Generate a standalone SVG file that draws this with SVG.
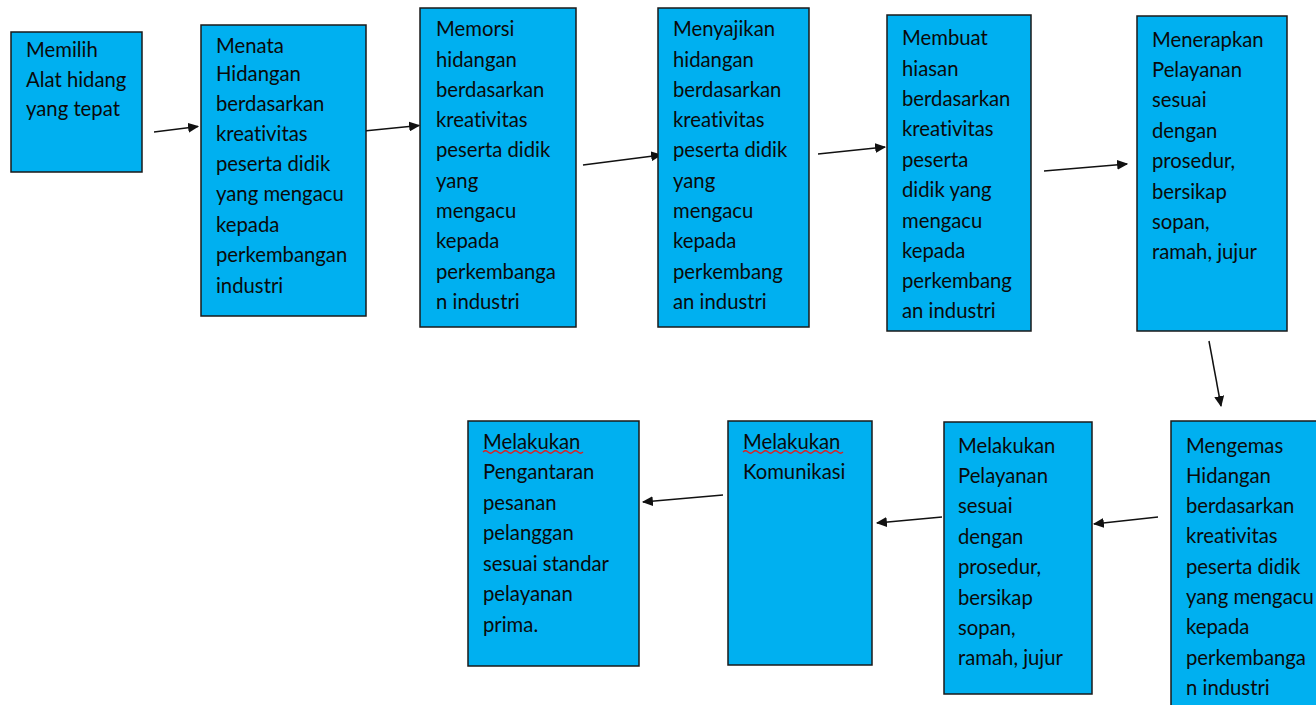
<svg xmlns="http://www.w3.org/2000/svg" width="1316" height="705" viewBox="0 0 1316 705">
<defs>
<style>
.box{fill:#00B0F0;stroke:#1a1a1a;stroke-width:1.5}
.t{font-family:Lato,"Liberation Sans",sans-serif;font-size:20.3px;fill:#0a0a0a;font-variant-ligatures:none;font-feature-settings:"liga" 0,"clig" 0}
.c{stroke:#111;stroke-width:1.5;fill:none}
.w{stroke:#e02020;stroke-width:1.2;fill:none}
</style>
<marker id="ah" viewBox="0 0 10 10" refX="9" refY="5" markerWidth="11" markerHeight="10" orient="auto" markerUnits="userSpaceOnUse" preserveAspectRatio="none">
<path d="M0,0 L10,5 L0,10 z" fill="#111"/>
</marker>
</defs>
<rect width="1316" height="705" fill="#fff"/>
<g id="connectors">
<line class="c" x1="154" y1="132" x2="198" y2="126.5" marker-end="url(#ah)"/>
<line class="c" x1="364" y1="131" x2="419" y2="125.5" marker-end="url(#ah)"/>
<line class="c" x1="583" y1="165" x2="661" y2="155" marker-end="url(#ah)"/>
<line class="c" x1="818" y1="154" x2="885" y2="147" marker-end="url(#ah)"/>
<line class="c" x1="1044" y1="171" x2="1127" y2="164" marker-end="url(#ah)"/>
<line class="c" x1="1209" y1="341" x2="1221" y2="406" marker-end="url(#ah)"/>
<line class="c" x1="1158" y1="517" x2="1094" y2="524" marker-end="url(#ah)"/>
<line class="c" x1="942" y1="517" x2="877" y2="523" marker-end="url(#ah)"/>
<line class="c" x1="723" y1="495" x2="643" y2="502" marker-end="url(#ah)"/>
</g>
<g id="n1"><rect class="box" x="11" y="32" width="131" height="140"/>
<text class="t" x="26" y="57">Memilih</text><text class="t" x="26" y="87">Alat hidang</text><text class="t" x="26" y="116">yang tepat</text></g>
<g id="n2"><rect class="box" x="201" y="25" width="165" height="291"/>
<text class="t" x="216" y="53">Menata</text><text class="t" x="216" y="81">Hidangan</text><text class="t" x="216" y="111">berdasarkan</text><text class="t" x="216" y="141">kreativitas</text><text class="t" x="216" y="171">peserta didik</text><text class="t" x="216" y="201">yang mengacu</text><text class="t" x="216" y="232">kepada</text><text class="t" x="216" y="262">perkembangan</text><text class="t" x="216" y="293">industri</text></g>
<g id="n3"><rect class="box" x="420" y="8" width="156" height="319"/>
<text class="t" x="436" y="36">Memorsi</text><text class="t" x="436" y="67">hidangan</text><text class="t" x="436" y="97">berdasarkan</text><text class="t" x="436" y="127">kreativitas</text><text class="t" x="436" y="157">peserta didik</text><text class="t" x="436" y="188">yang</text><text class="t" x="436" y="218">mengacu</text><text class="t" x="436" y="248">kepada</text><text class="t" x="436" y="279">perkembanga</text><text class="t" x="436" y="309">n industri</text></g>
<g id="n4"><rect class="box" x="658" y="8" width="151" height="319"/>
<text class="t" x="673" y="36">Menyajikan</text><text class="t" x="673" y="67">hidangan</text><text class="t" x="673" y="97">berdasarkan</text><text class="t" x="673" y="127">kreativitas</text><text class="t" x="673" y="157">peserta didik</text><text class="t" x="673" y="188">yang</text><text class="t" x="673" y="218">mengacu</text><text class="t" x="673" y="248">kepada</text><text class="t" x="673" y="279">perkembang</text><text class="t" x="673" y="309">an industri</text></g>
<g id="n5"><rect class="box" x="887" y="15" width="144" height="316"/>
<text class="t" x="902" y="45">Membuat</text><text class="t" x="902" y="76">hiasan</text><text class="t" x="902" y="106">berdasarkan</text><text class="t" x="902" y="136">kreativitas</text><text class="t" x="902" y="167">peserta</text><text class="t" x="902" y="197">didik yang</text><text class="t" x="902" y="228">mengacu</text><text class="t" x="902" y="258">kepada</text><text class="t" x="902" y="288">perkembang</text><text class="t" x="902" y="318">an industri</text></g>
<g id="n6"><rect class="box" x="1137" y="16" width="150" height="315"/>
<text class="t" x="1152" y="47">Menerapkan</text><text class="t" x="1152" y="77">Pelayanan</text><text class="t" x="1152" y="107">sesuai</text><text class="t" x="1152" y="138">dengan</text><text class="t" x="1152" y="168">prosedur,</text><text class="t" x="1152" y="199">bersikap</text><text class="t" x="1152" y="229">sopan,</text><text class="t" x="1152" y="259">ramah, jujur</text></g>
<g id="n7"><rect class="box" x="1171" y="421" width="160" height="300"/>
<text class="t" x="1186" y="453">Mengemas</text><text class="t" x="1186" y="483">Hidangan</text><text class="t" x="1186" y="513">berdasarkan</text><text class="t" x="1186" y="543">kreativitas</text><text class="t" x="1186" y="574">peserta didik</text><text class="t" x="1186" y="604">yang mengacu</text><text class="t" x="1186" y="634">kepada</text><text class="t" x="1186" y="665">perkembanga</text><text class="t" x="1186" y="695">n industri</text></g>
<g id="n8"><rect class="box" x="944" y="422" width="148" height="272"/>
<text class="t" x="958" y="453">Melakukan</text><text class="t" x="958" y="483">Pelayanan</text><text class="t" x="958" y="513">sesuai</text><text class="t" x="958" y="544">dengan</text><text class="t" x="958" y="574">prosedur,</text><text class="t" x="958" y="605">bersikap</text><text class="t" x="958" y="635">sopan,</text><text class="t" x="958" y="665">ramah, jujur</text></g>
<g id="n9"><rect class="box" x="728" y="421" width="144" height="244"/>
<text class="t" x="743" y="449">Melakukan</text><text class="t" x="743" y="479">Komunikasi</text>
<path class="w" d="M743,452 q2.5,-2.5 5,0 t5,0 t5,0 t5,0 t5,0 t5,0 t5,0 t5,0 t5,0 t5,0 t5,0 t5,0 t5,0 t5,0 t5,0 t5,0 t5,0 t5,0 t5,0 t5,0"/></g>
<g id="n10"><rect class="box" x="468" y="421" width="171" height="245"/>
<text class="t" x="483" y="449">Melakukan</text><text class="t" x="483" y="479">Pengantaran</text><text class="t" x="483" y="510">pesanan</text><text class="t" x="483" y="540">pelanggan</text><text class="t" x="483" y="571">sesuai standar</text><text class="t" x="483" y="601">pelayanan</text><text class="t" x="483" y="632">prima.</text>
<path class="w" d="M483,452 q2.5,-2.5 5,0 t5,0 t5,0 t5,0 t5,0 t5,0 t5,0 t5,0 t5,0 t5,0 t5,0 t5,0 t5,0 t5,0 t5,0 t5,0 t5,0 t5,0 t5,0 t5,0"/></g>
</svg>
